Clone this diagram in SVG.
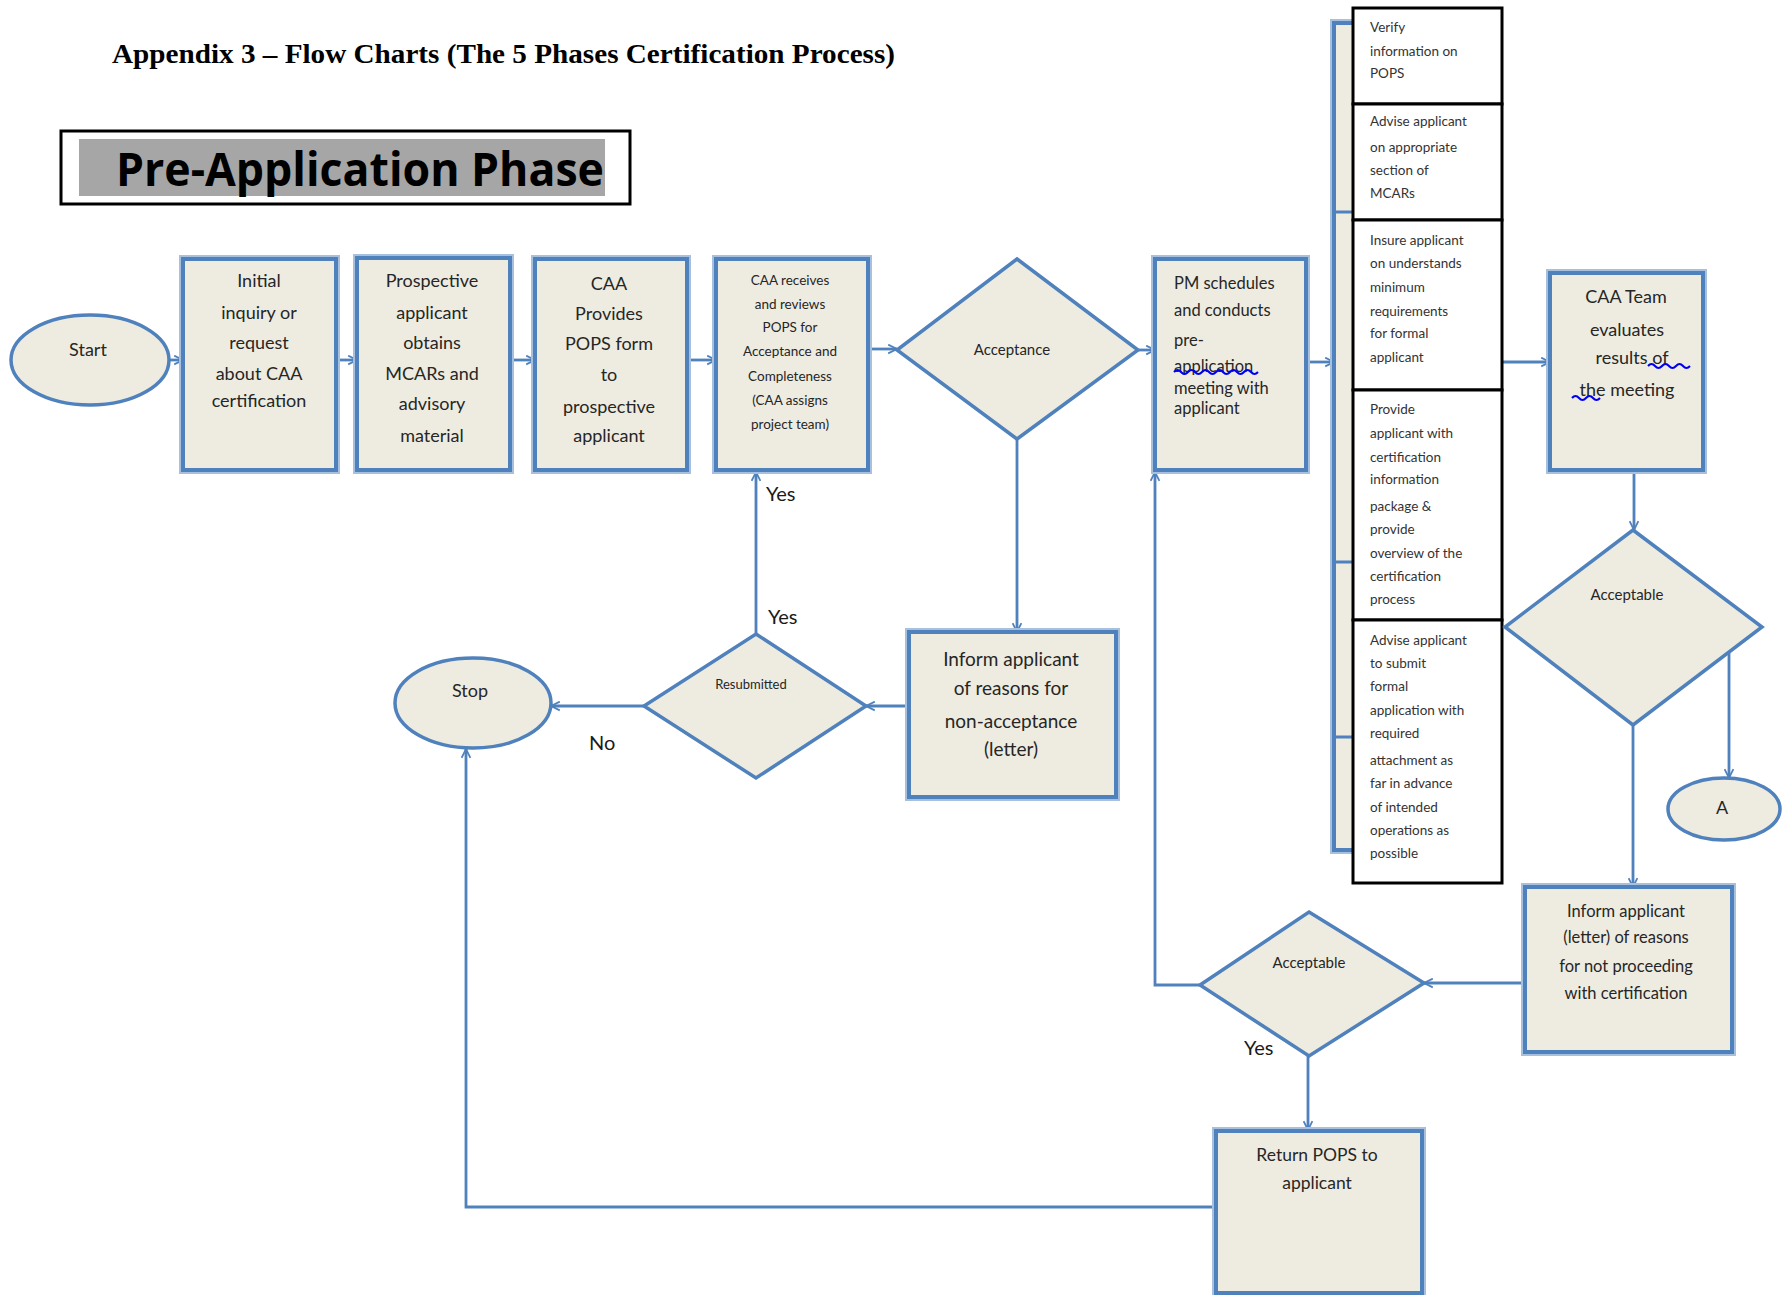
<svg xmlns="http://www.w3.org/2000/svg" width="1786" height="1295" viewBox="0 0 1786 1295">
<style>
.halo{fill:none;stroke:#a7c0de;stroke-width:8}
.box{fill:#eeece1;stroke:#4f81bd;stroke-width:4}
.shape{fill:#eeece1;stroke:#4f81bd;stroke-width:3.5}
.list{fill:#ffffff;stroke:#000000;stroke-width:3}
.conn{fill:none;stroke:#4f81bd;stroke-width:2.8}
.t{font-family:Lato,"Liberation Sans",sans-serif;fill:#262626;text-anchor:middle}
.l{font-family:Lato,"Liberation Sans",sans-serif;fill:#333333;font-size:13.5px}
.lab{font-family:Lato,"Liberation Sans",sans-serif;fill:#1a1a1a;font-size:20px}
.sq{fill:none;stroke:#0000ee;stroke-width:2}
</style>
<defs>
<marker id="arr" viewBox="0 0 10 10" refX="9" refY="5" markerWidth="11" markerHeight="11" markerUnits="userSpaceOnUse" orient="auto">
<path d="M1,1 L9,5 L1,9" fill="none" stroke="#4f81bd" stroke-width="1.6"/>
</marker>
</defs>
<rect width="1786" height="1295" fill="#ffffff"/>

<g id="title">
<text x="112" y="63" font-family="'Liberation Serif',serif" font-weight="bold" font-size="27" textLength="783" lengthAdjust="spacingAndGlyphs" fill="#000">Appendix 3 – Flow Charts (The 5 Phases Certification Process)</text>
</g>
<g id="phase-header">
<rect x="61" y="131" width="569" height="73" fill="#fff" stroke="#000" stroke-width="3"/>
<rect x="79" y="139" width="526" height="57" fill="#a6a6a6"/>
<text x="116" y="186" font-family="'Open Sans','Liberation Sans',sans-serif" font-weight="bold" font-size="46" textLength="488" lengthAdjust="spacingAndGlyphs" fill="#000">Pre-Application Phase</text>
</g>

<g id="connectors">
<path class="conn" d="M168,360 L183,360" marker-end="url(#arr)"/>
<path class="conn" d="M336,360 L357,360" marker-end="url(#arr)"/>
<path class="conn" d="M510,360 L535,360" marker-end="url(#arr)"/>
<path class="conn" d="M687,360 L716,360" marker-end="url(#arr)"/>
<path class="conn" d="M868,349 L897,349" marker-end="url(#arr)"/>
<path class="conn" d="M1138,350 L1155,350" marker-end="url(#arr)"/>
<path class="conn" d="M1306,362 L1334,362" marker-end="url(#arr)"/>
<path class="conn" d="M1502,362 L1550,362" marker-end="url(#arr)"/>
<path class="conn" d="M1634,470 L1634,530" marker-end="url(#arr)"/>
<path class="conn" d="M1729,653 L1729,778" marker-end="url(#arr)"/>
<path class="conn" d="M1633,725 L1633,887" marker-end="url(#arr)"/>
<path class="conn" d="M1525,983 L1424,983" marker-end="url(#arr)"/>
<path class="conn" d="M1200,985 L1155,985 L1155,472" marker-end="url(#arr)"/>
<path class="conn" d="M1308,1056 L1308,1130" marker-end="url(#arr)"/>
<path class="conn" d="M1216,1207 L466,1207 L466,749" marker-end="url(#arr)"/>
<path class="conn" d="M1017,439 L1017,632" marker-end="url(#arr)"/>
<path class="conn" d="M909,706 L866,706" marker-end="url(#arr)"/>
<path class="conn" d="M644,706 L551,706" marker-end="url(#arr)"/>
<path class="conn" d="M756,634 L756,472" marker-end="url(#arr)"/>
</g>

<g id="start">
<ellipse class="shape" cx="90" cy="360" rx="79" ry="45"/>
<text class="t" x="88" y="356" font-size="18">Start</text>
</g>

<g id="initial-inquiry">
<rect class="halo" x="183" y="259" width="153" height="211"/>
<rect class="box" x="183" y="259" width="153" height="211"/>
<text class="t" font-size="18"><tspan x="259" y="287">Initial</tspan><tspan x="259" y="319">inquiry or</tspan><tspan x="259" y="349">request</tspan><tspan x="259" y="380">about CAA</tspan><tspan x="259" y="407">certification</tspan></text>
</g>

<g id="prospective-applicant">
<rect class="halo" x="357" y="258" width="153" height="212"/>
<rect class="box" x="357" y="258" width="153" height="212"/>
<text class="t" font-size="18"><tspan x="432" y="287">Prospective</tspan><tspan x="432" y="319">applicant</tspan><tspan x="432" y="349">obtains</tspan><tspan x="432" y="380">MCARs and</tspan><tspan x="432" y="410">advisory</tspan><tspan x="432" y="442">material</tspan></text>
</g>

<g id="caa-provides">
<rect class="halo" x="535" y="259" width="152" height="211"/>
<rect class="box" x="535" y="259" width="152" height="211"/>
<text class="t" font-size="18"><tspan x="609" y="290">CAA</tspan><tspan x="609" y="320">Provides</tspan><tspan x="609" y="350">POPS form</tspan><tspan x="609" y="381">to</tspan><tspan x="609" y="413">prospective</tspan><tspan x="609" y="442">applicant</tspan></text>
</g>

<g id="caa-receives">
<rect class="halo" x="716" y="259" width="152" height="211"/>
<rect class="box" x="716" y="259" width="152" height="211"/>
<text class="t" font-size="13.5"><tspan x="790" y="285">CAA receives</tspan><tspan x="790" y="309">and reviews</tspan><tspan x="790" y="332">POPS for</tspan><tspan x="790" y="356">Acceptance and</tspan><tspan x="790" y="381">Completeness</tspan><tspan x="790" y="405">(CAA assigns</tspan><tspan x="790" y="429">project team)</tspan></text>
</g>

<g id="acceptance">
<polygon class="shape" points="1017,259 1138,350 1017,439 897,350"/>
<text class="t" x="1012" y="355" font-size="15">Acceptance</text>
</g>

<g id="pm-schedules">
<rect class="halo" x="1155" y="259" width="151" height="211"/>
<rect class="box" x="1155" y="259" width="151" height="211"/>
<text font-family="Lato,'Liberation Sans',sans-serif" fill="#262626" font-size="16.5"><tspan x="1174" y="289">PM schedules</tspan><tspan x="1174" y="316">and conducts</tspan><tspan x="1174" y="346">pre-</tspan><tspan x="1174" y="372">application</tspan><tspan x="1174" y="394">meeting with</tspan><tspan x="1174" y="414">applicant</tspan></text>
<path class="sq" d="M1174,372 q3.5,-4 7,0 t7,0 t7,0 t7,0 t7,0 t7,0 t7,0 t7,0 t7,0 t7,0 t7,0 t7,0"/>
</g>

<g id="meeting-steps-frame">
<rect class="halo" x="1334" y="23" width="40" height="827"/>
<rect class="box" x="1334" y="23" width="40" height="827"/>
<path fill="none" stroke="#4f81bd" stroke-width="3" d="M1334,212 L1360,212 M1334,562 L1360,562 M1334,737 L1360,737"/>
</g>

<g id="step-verify">
<rect class="list" x="1353" y="8" width="149" height="96"/>
<text class="l"><tspan x="1370" y="32">Verify</tspan><tspan x="1370" y="56">information on</tspan><tspan x="1370" y="78">POPS</tspan></text>
</g>
<g id="step-advise-mcars">
<rect class="list" x="1353" y="104" width="149" height="116"/>
<text class="l"><tspan x="1370" y="126">Advise applicant</tspan><tspan x="1370" y="152">on appropriate</tspan><tspan x="1370" y="175">section of</tspan><tspan x="1370" y="198">MCARs</tspan></text>
</g>
<g id="step-insure">
<rect class="list" x="1353" y="220" width="149" height="170"/>
<text class="l"><tspan x="1370" y="245">Insure applicant</tspan><tspan x="1370" y="268">on understands</tspan><tspan x="1370" y="292">minimum</tspan><tspan x="1370" y="316">requirements</tspan><tspan x="1370" y="338">for formal</tspan><tspan x="1370" y="362">applicant</tspan></text>
</g>
<g id="step-provide">
<rect class="list" x="1353" y="390" width="149" height="230"/>
<text class="l"><tspan x="1370" y="414">Provide</tspan><tspan x="1370" y="438">applicant with</tspan><tspan x="1370" y="462">certification</tspan><tspan x="1370" y="484">information</tspan><tspan x="1370" y="511">package &amp;</tspan><tspan x="1370" y="534">provide</tspan><tspan x="1370" y="558">overview of the</tspan><tspan x="1370" y="581">certification</tspan><tspan x="1370" y="604">process</tspan></text>
</g>
<g id="step-advise-submit">
<rect class="list" x="1353" y="620" width="149" height="263"/>
<text class="l"><tspan x="1370" y="645">Advise applicant</tspan><tspan x="1370" y="668">to submit</tspan><tspan x="1370" y="691">formal</tspan><tspan x="1370" y="715">application with</tspan><tspan x="1370" y="738">required</tspan><tspan x="1370" y="765">attachment as</tspan><tspan x="1370" y="788">far in advance</tspan><tspan x="1370" y="812">of intended</tspan><tspan x="1370" y="835">operations as</tspan><tspan x="1370" y="858">possible</tspan></text>
</g>

<g id="caa-team-evaluates">
<rect class="halo" x="1550" y="273" width="153" height="197"/>
<rect class="box" x="1550" y="273" width="153" height="197"/>
<text class="t" font-size="18"><tspan x="1626" y="303">CAA Team</tspan><tspan x="1627" y="336">evaluates</tspan><tspan x="1632" y="364">results of</tspan><tspan x="1627" y="396">the meeting</tspan></text>
<path class="sq" d="M1648,366 q3.5,-4 7,0 t7,0 t7,0 t7,0 t7,0 t7,0"/>
<path class="sq" d="M1572,398 q3.5,-4 7,0 t7,0 t7,0 t7,0"/>
</g>

<g id="acceptable-right">
<polygon class="shape" points="1633,530 1762,627 1633,725 1505,627"/>
<text class="t" x="1627" y="600" font-size="15">Acceptable</text>
</g>

<g id="connector-a">
<ellipse class="shape" cx="1724" cy="809" rx="56" ry="31"/>
<text class="t" x="1722" y="814" font-size="18">A</text>
</g>

<g id="inform-not-proceeding">
<rect class="halo" x="1525" y="887" width="207" height="165"/>
<rect class="box" x="1525" y="887" width="207" height="165"/>
<text class="t" font-size="16.5"><tspan x="1626" y="917">Inform applicant</tspan><tspan x="1626" y="943">(letter) of reasons</tspan><tspan x="1626" y="972">for not proceeding</tspan><tspan x="1626" y="999">with certification</tspan></text>
</g>

<g id="acceptable-bottom">
<polygon class="shape" points="1309,912 1424,983 1309,1056 1200,985"/>
<text class="t" x="1309" y="968" font-size="15">Acceptable</text>
</g>

<g id="return-pops">
<rect class="halo" x="1216" y="1131" width="206" height="162"/>
<rect class="box" x="1216" y="1131" width="206" height="162"/>
<text class="t" font-size="17.5"><tspan x="1317" y="1161">Return POPS to</tspan><tspan x="1317" y="1189">applicant</tspan></text>
</g>

<g id="inform-non-acceptance">
<rect class="halo" x="909" y="632" width="207" height="165"/>
<rect class="box" x="909" y="632" width="207" height="165"/>
<text class="t" font-size="19"><tspan x="1011" y="666">Inform applicant</tspan><tspan x="1011" y="695">of reasons for</tspan><tspan x="1011" y="728">non-acceptance</tspan><tspan x="1011" y="756">(letter)</tspan></text>
</g>

<g id="resubmitted">
<polygon class="shape" points="756,634 866,706 756,778 644,706"/>
<text class="t" x="751" y="689" font-size="13">Resubmitted</text>
</g>

<g id="stop">
<ellipse class="shape" cx="473" cy="703" rx="78" ry="45"/>
<text class="t" x="470" y="697" font-size="18">Stop</text>
</g>

<g id="labels">
<text class="lab" x="766" y="501">Yes</text>
<text class="lab" x="768" y="624">Yes</text>
<text class="lab" x="589" y="750">No</text>
<text class="lab" x="1244" y="1055">Yes</text>
</g>
</svg>
